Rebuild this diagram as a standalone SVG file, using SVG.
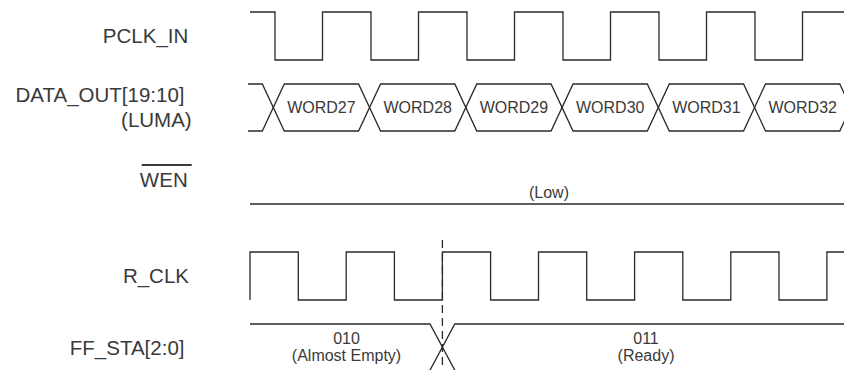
<svg xmlns="http://www.w3.org/2000/svg" width="844" height="370" viewBox="0 0 844 370">
<style>
.bg{fill:#ffffff}
.sig{fill:none;stroke:#2a2a2a;stroke-width:1.3;stroke-linejoin:miter}
.dash{fill:none;stroke:#2a2a2a;stroke-width:1.3;stroke-dasharray:8 5}
.lbl{font-family:"Liberation Sans",Arial,Helvetica,sans-serif;font-size:20.5px;fill:#3a3a3a;text-anchor:end}
.val{font-family:"Liberation Sans",Arial,Helvetica,sans-serif;font-size:16px;fill:#3a3a3a;text-anchor:middle}
</style>
<rect class="bg" x="0" y="0" width="844" height="370"/>
<g id="labels">
<text class="lbl" x="188.3" y="43.3">PCLK_IN</text>
<text class="lbl" x="184.5" y="101.5">DATA_OUT[19:10]</text>
<text class="lbl" x="191.7" y="126.5">(LUMA)</text>
<text class="lbl" x="187.7" y="186.7">WEN</text>
<line x1="141.7" y1="165" x2="191.7" y2="165" stroke="#3a3a3a" stroke-width="2"/>
<text class="lbl" x="189" y="282.7">R_CLK</text>
<text class="lbl" x="184.5" y="355">FF_STA[2:0]</text>
</g>
<g id="pclk_in">
<path class="sig" d="M250,12 H275 V60 H322.5 V12 H371 V60 H418.5 V12 H467 V60 H514.5 V12 H563 V60 H610.5 V12 H659 V60 H706.5 V12 H755 V60 H802.5 V12 H844"/>
</g>
<g id="data_out">
<path class="sig" d="M248,84 H262.3 L284.3,131 H358.55 L380.55,84 H454.8 L476.8,131 H551.05 L573.05,84 H647.3 L669.3,131 H743.55 L765.55,84 H839.8 L861.8,131"/>
<path class="sig" d="M248,131 H262.3 L284.3,84 H358.55 L380.55,131 H454.8 L476.8,84 H551.05 L573.05,131 H647.3 L669.3,84 H743.55 L765.55,131 H839.8 L861.8,84"/>
<text class="val" x="321.4" y="112.5">WORD27</text>
<text class="val" x="417.7" y="112.5">WORD28</text>
<text class="val" x="513.9" y="112.5">WORD29</text>
<text class="val" x="610.2" y="112.5">WORD30</text>
<text class="val" x="706.4" y="112.5">WORD31</text>
<text class="val" x="802.7" y="112.5">WORD32</text>
</g>
<g id="wen">
<line class="sig" x1="250" y1="204" x2="844" y2="204"/>
<text class="val" x="549" y="198">(Low)</text>
</g>
<g id="r_clk">
<path class="sig" d="M250,300 V252 H298.3 V300 H346.2 V252 H394.4 V300 H442.4 V252 H490.6 V300 H538.5 V252 H586.7 V300 H634.6 V252 H682.8 V300 H730.8 V252 H779 V300 H826.9 V252 H844"/>
</g>
<g id="ff_sta">
<path class="sig" d="M250,324 H430 L455.5,371.5"/>
<path class="sig" d="M844,324 H454.8 L429.3,371.5"/>
<text class="val" x="346.5" y="343.5">010</text>
<text class="val" x="346.5" y="361">(Almost Empty)</text>
<text class="val" x="646" y="343.5">011</text>
<text class="val" x="646" y="361">(Ready)</text>
</g>
<g id="connectors">
<line class="dash" x1="442.4" y1="240" x2="442.4" y2="370"/>
</g>
</svg>
